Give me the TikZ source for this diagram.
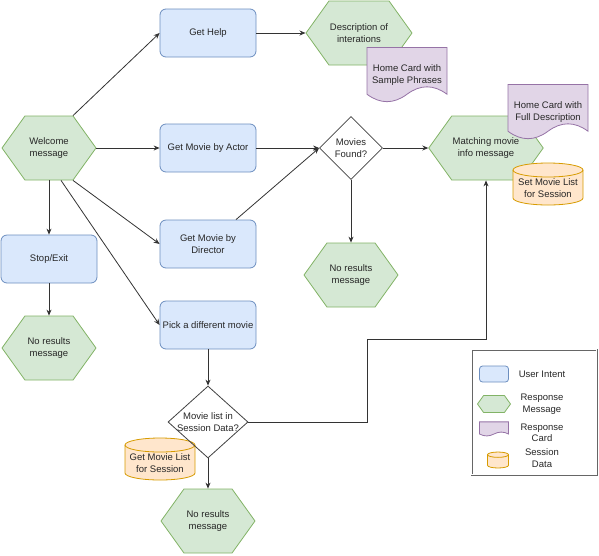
\documentclass[tikz,border=0pt]{standalone}
\usepackage{fontspec}
\setmainfont{Liberation Sans}
\usetikzlibrary{shapes.geometric,shapes.symbols,arrows.meta}

\definecolor{intentfill}{HTML}{DAE8FC}
\definecolor{intentline}{HTML}{6C8EBF}
\definecolor{msgfill}{HTML}{D5E8D4}
\definecolor{msgline}{HTML}{82B366}
\definecolor{cardfill}{HTML}{E1D5E7}
\definecolor{cardline}{HTML}{9673A6}
\definecolor{datafill}{HTML}{FFE6CC}
\definecolor{dataline}{HTML}{D79B00}

\tikzset{
  cardshape/.pic={
    \path[draw=cardline,fill=cardfill,line width=0.8pt]
      (-40,-27.5) -- (40,-27.5) -- (40,19.25)
      .. controls (26.67,9.35) and (13.33,9.35) .. (0,19.25)
      .. controls (-13.33,29.15) and (-26.67,29.15) .. (-40,19.25) -- cycle;
  },
  homecard/.pic={
    \pic {cardshape};
    \node (-txt) at (0,0) {\tikzpictext};
  },
  dbshape/.pic={
    \path[draw=dataline,fill=datafill,line width=0.8pt]
      (-35,-14) -- (-35,14)
      arc[start angle=180,end angle=0,x radius=35,y radius=7]
      -- (35,-14)
      arc[start angle=0,end angle=-180,x radius=35,y radius=7] -- cycle;
    \draw[dataline,line width=0.8pt] (-35,-14)
      arc[start angle=180,end angle=0,x radius=35,y radius=7];
  },
  datastore/.pic={
    \pic {dbshape};
    \node (-txt) at (0,4) {\tikzpictext};
  },
}

\begin{document}
\begin{tikzpicture}[x=1pt,y=-1pt,
  every node/.style={font=\fontsize{9.5}{11.5}\selectfont,
    text=black!85,align=center},
  intent/.style={rectangle,rounded corners=6pt,draw=intentline,
    fill=intentfill,line width=0.8pt,minimum width=96,minimum height=48,
    inner sep=1pt},
  msg/.style={signal,signal to=west and east,signal pointer angle=108.7,
    draw=msgline,fill=msgfill,line width=0.8pt,minimum width=94,
    minimum height=64,inner sep=1pt},
  choice/.style={diamond,draw=black!75,line width=0.8pt,minimum width=63,
    minimum height=63,inner sep=0pt},
  flow/.style={draw=black!80,line width=0.8pt,
    -{Stealth[length=6,width=5]}},
  ]

  \useasboundingbox (0,0) rectangle (599,555);

  % entry
  \node[msg] (welcome) at (49,148) {Welcome\\message};
  \node[intent] (stop) at (49,259) {Stop/Exit};
  \node[msg] (nores1) at (49,348) {No results\\message};

  % intents
  \node[intent] (help) at (208,33) {Get Help};
  \node[intent] (actor) at (208,148) {Get Movie by Actor};
  \node[intent] (director) at (208,244) {Get Movie by\\Director};
  \node[intent] (pick) at (208,325) {Pick a different movie};

  % help
  \node[msg] (desc) at (359,33) {Description of\\interations};
  \pic (sample) at (407,75) [pic text={Home Card with\\Sample Phrases}] {homecard};

  % search
  \node[choice] (found) at (351,148) {Movies\\Found?};
  \node[msg] (nores2) at (351,275) {No results\\message};
  \node[msg] (match) at (486,148) {Matching movie\\info message};
  \pic (full) at (548,112) [pic text={Home Card with\\Full Description}] {homecard};
  \pic (setlist) at (548,184) [pic text={Set Movie List\\for Session}] {datastore};

  % other movie
  \pic (getlist) at (160,459) [pic text={Get Movie List\\for Session}] {datastore};
  \node[choice,minimum width=80,minimum height=72] (listq) at (208,422)
    {\makebox[0pt]{Movie list in}\\\makebox[0pt]{Session Data?}};
  \node[msg] (nores3) at (208,521) {No results\\message};
  \coordinate (turn) at (367,339);

  % connectors
  \draw[flow] ([xshift=24]welcome.north) -- (help.west);
  \draw[flow] (welcome.east) -- (actor.west);
  \draw[flow] ([xshift=24]welcome.south) -- (director.west);
  \draw[flow] ([xshift=12]welcome.south) -- (pick.west);
  \draw[flow] (welcome.south) -- (stop.north);
  \draw[flow] (stop.south) -- (nores1.north);
  \draw[flow] (help.east) -- (desc.west);
  \draw[flow] (actor.east) -- (found.west);
  \draw[flow] ([xshift=28]director.north) -- (found.west);
  \draw[flow] (found.east) -- (match.west);
  \draw[flow] (found.south) -- (nores2.north);
  \draw[flow] (pick.south) -- (listq.north);
  \draw[flow] (listq.south) -- (nores3.north);
  \draw[flow] (listq.east) -| (turn) -| (match.south);

  % legend
  \node[draw=black!60,double,double distance=1.2pt,minimum width=125,
    minimum height=125] (legend) at (534,412) {};
  \node[intent,rounded corners=3pt,minimum width=29,minimum height=16]
    (keyintent) at (494,374) {};
  \node[] (keyintenttxt) at (542,374) {User Intent};
  \node[msg,minimum width=33,minimum height=17] (keymsg) at (494,404) {};
  \node[] (keymsgtxt) at (542,404) {Response\\Message};
  \pic[xscale=0.3625,yscale=0.26] (keycard) at (494,429) {cardshape};
  \node[] (keycardtxt) at (542,433) {Response\\Card};
  \pic[xscale=0.3,yscale=0.38] (keydata) at (498,460) {dbshape};
  \node[] (keydatatxt) at (542,458) {Session\\Data};

\end{tikzpicture}
\end{document}
